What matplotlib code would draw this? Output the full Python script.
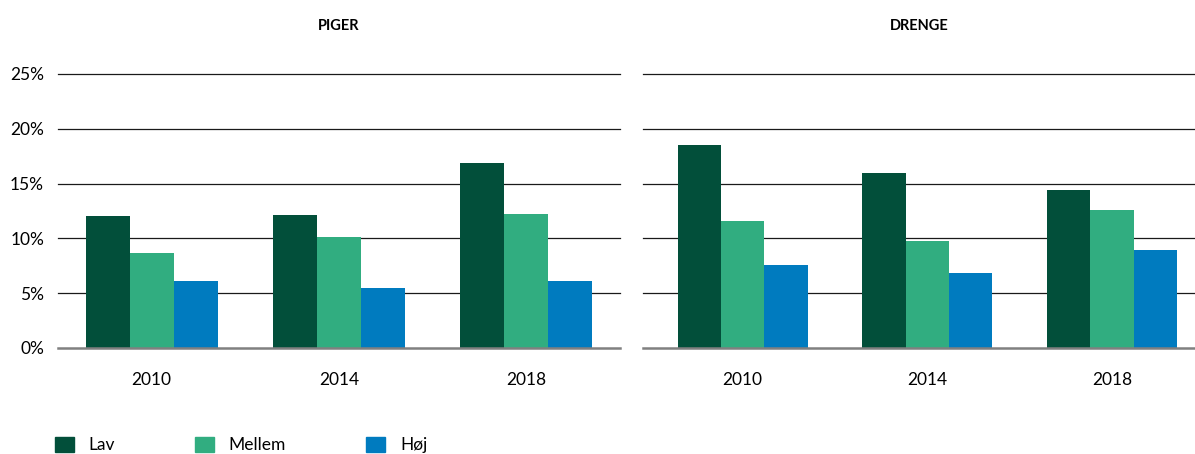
import numpy as np
import matplotlib.pyplot as plt
from matplotlib.patches import Rectangle

plt.rcParams['font.family'] = ['Lato', 'DejaVu Sans']

years = ['2010', '2014', '2018']
groups = ['Lav', 'Mellem', 'Høj']
colors = ['#024f3a', '#31ad80', '#007bbf']

# procent
piger_lav = [12.0, 12.1, 16.9]
piger_mellem = [8.7, 10.1, 12.2]
piger_hoj = [6.1, 5.5, 6.1]

drenge_lav = [18.5, 16.0, 14.4]
drenge_mellem = [11.6, 9.8, 12.6]
drenge_hoj = [7.6, 6.8, 8.9]

W, H = 1195, 454
fig = plt.figure(figsize=(W / 100, H / 100), dpi=100)

ax1 = fig.add_axes([58 / W, 1 - 348 / H, 562 / W, 274 / H])
ax2 = fig.add_axes([643 / W, 1 - 348 / H, 552 / W, 274 / H])

x = np.arange(len(years))
bw = 0.235

def draw(ax, series, title, xlim):
    for i, (vals, c) in enumerate(zip(series, colors)):
        ax.bar(x + (i - 1) * bw, vals, bw, color=c, zorder=3, linewidth=0)
    for v in [5, 10, 15, 20, 25]:
        ax.axhline(v, color='#1a1a1a', lw=0.9, zorder=1, clip_on=False)
    ax.axhline(0, color='#808080', lw=1.8, zorder=4, clip_on=False)
    ax.set_xlim(*xlim)
    ax.set_ylim(0, 25)
    for s in ax.spines.values():
        s.set_visible(False)
    ax.set_xticks(x)
    ax.set_xticklabels(years, fontsize=12.5)
    ax.tick_params(axis='both', length=0)
    ax.tick_params(axis='x', pad=17)
    ax.set_yticks([0, 5, 10, 15, 20, 25])
    ax.set_title(title, fontsize=10.5, fontweight='bold', pad=32)

draw(ax1, [piger_lav, piger_mellem, piger_hoj], 'PIGER', (-0.5, 2.5))
draw(ax2, [drenge_lav, drenge_mellem, drenge_hoj], 'DRENGE', (-0.54, 2.45))

ax1.set_yticklabels(['%d%%' % v for v in [0, 5, 10, 15, 20, 25]], fontsize=12.5)
ax1.tick_params(axis='y', pad=10)
ax2.set_yticklabels([])

handles = [Rectangle((0, 0), 1, 1, color=c) for c in colors]
fig.legend(handles, groups, loc='center left', bbox_to_anchor=(0.04, 0.02),
           ncol=3, frameon=False, fontsize=12.5, handlelength=1.1,
           handleheight=1.0, handletextpad=0.85, columnspacing=4.6,
           borderaxespad=0)

fig.savefig('out.png', dpi=100)
